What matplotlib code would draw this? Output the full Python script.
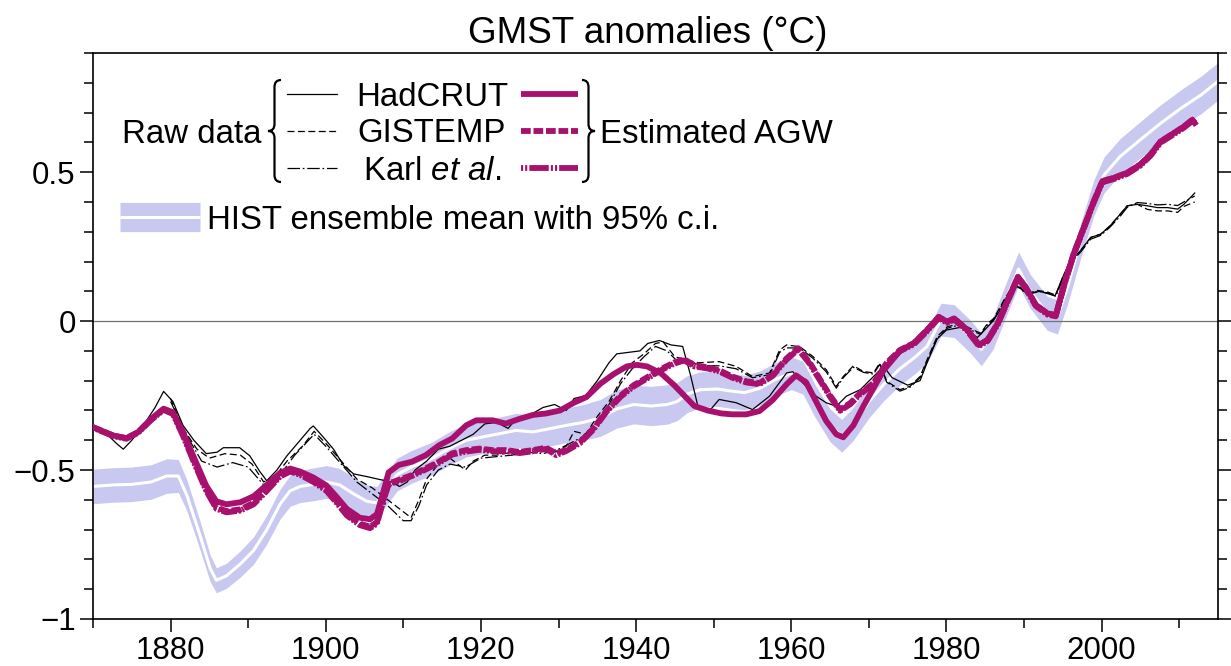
import numpy as np
import matplotlib
matplotlib.use("Agg")
import matplotlib.pyplot as plt
from matplotlib.path import Path
from matplotlib.patches import PathPatch
from matplotlib.ticker import MultipleLocator, FuncFormatter

plt.rcParams["font.family"] = ["Liberation Sans", "DejaVu Sans"]
plt.rcParams["mathtext.fontset"] = "custom"
plt.rcParams["mathtext.rm"] = "Liberation Sans"
plt.rcParams["mathtext.it"] = "Liberation Sans:italic"
plt.rcParams["lines.scale_dashes"] = False

# ---- data ---------------------------------------------------------------
# HIST ensemble mean and half width of the 95% c.i.
hist_years = [1870.0, 1872.6, 1875.0, 1877.5, 1879.5, 1881.0, 1882.1, 1883.8, 1885.1, 1885.9,
              1887.2, 1889.0, 1890.7, 1892.4, 1894.1, 1895.4, 1896.7, 1898.4, 1900.1, 1901.8,
              1903.6, 1905.3, 1906.6, 1907.9, 1909.2, 1911.0, 1913.7, 1915.9, 1918.1, 1920.2,
              1922.4, 1924.5, 1926.7, 1928.9, 1931.0, 1933.2, 1935.4, 1937.5, 1939.7, 1941.9,
              1944.0, 1945.3, 1946.6, 1948.3, 1950.5, 1952.3, 1954.0, 1956.0, 1958.0, 1960.0,
              1961.5, 1963.0, 1965.0, 1966.5, 1968.0, 1970.0, 1972.0, 1974.0, 1976.0, 1977.5,
              1979.3, 1981.0, 1983.0, 1984.5, 1986.0, 1987.5, 1989.3, 1990.8, 1993.0, 1994.3,
              1995.6, 1997.3, 1999.0, 2000.3, 2002.4, 2005.0, 2007.6, 2010.2, 2012.8, 2015.2]
hist_mean = [-0.555, -0.55, -0.548, -0.54, -0.52, -0.52, -0.585, -0.72, -0.83, -0.87,
             -0.855, -0.815, -0.77, -0.70, -0.615, -0.57, -0.555, -0.548, -0.54, -0.55,
             -0.58, -0.605, -0.61, -0.56, -0.515, -0.49, -0.461, -0.428, -0.40, -0.389,
             -0.378, -0.367, -0.372, -0.361, -0.35, -0.34, -0.325, -0.295, -0.28, -0.285,
             -0.28, -0.27, -0.245, -0.23, -0.228, -0.235, -0.24, -0.225, -0.195, -0.175,
             -0.19, -0.265, -0.35, -0.385, -0.345, -0.27, -0.21, -0.16, -0.12, -0.085,
             0.005, 0.0, -0.05, -0.095, -0.04, 0.06, 0.175, 0.10, 0.026, 0.014,
             0.114, 0.27, 0.414, 0.49, 0.553, 0.609, 0.664, 0.714, 0.759, 0.809]
hist_ci = [0.058, 0.058, 0.058, 0.058, 0.058, 0.055, 0.052, 0.048, 0.045, 0.042,
           0.042, 0.044, 0.046, 0.048, 0.050, 0.052, 0.054, 0.055, 0.055, 0.055,
           0.055, 0.055, 0.055, 0.055, 0.055, 0.055, 0.055, 0.056, 0.056, 0.056,
           0.056, 0.057, 0.057, 0.058, 0.058, 0.060, 0.062, 0.064, 0.065, 0.066,
           0.066, 0.064, 0.062, 0.060, 0.058, 0.058, 0.058, 0.058, 0.056, 0.055,
           0.055, 0.055, 0.055, 0.055, 0.055, 0.055, 0.055, 0.055, 0.055, 0.055,
           0.055, 0.055, 0.055, 0.055, 0.055, 0.056, 0.057, 0.057, 0.057, 0.057,
           0.058, 0.059, 0.060, 0.060, 0.060, 0.061, 0.062, 0.062, 0.063, 0.063]

# estimated AGW, HadCRUT based
agw_had_years = [1870.0, 1872.6, 1874.3, 1875.8, 1877.5, 1879.1, 1880.3, 1881.6, 1883.1, 1884.6,
                 1885.9, 1887.2, 1889.0, 1890.7, 1892.4, 1894.1, 1895.4, 1896.7, 1898.4, 1900.1,
                 1901.4, 1902.7, 1904.4, 1905.7, 1906.6, 1907.4, 1908.1, 1909.4, 1911.1, 1912.9,
                 1914.6, 1916.3, 1918.1, 1919.4, 1921.5, 1923.2, 1925.0, 1926.7, 1928.4, 1930.2,
                 1931.9, 1933.6, 1935.4, 1937.1, 1938.8, 1940.1, 1941.4, 1943.2, 1944.9, 1946.2,
                 1947.5, 1949.2, 1951.0, 1952.4, 1954.2, 1955.9, 1957.6, 1959.4, 1960.6, 1961.9,
                 1963.2, 1964.5, 1965.8, 1966.7, 1968.0, 1969.3, 1970.6, 1971.9, 1973.2, 1974.0,
                 1975.8, 1977.5, 1979.0, 1980.1, 1981.0, 1982.7, 1984.2, 1985.3, 1986.6, 1987.9,
                 1989.2, 1990.2, 1991.5, 1993.0, 1994.1, 1995.2, 1996.4, 1997.7, 1999.0, 2000.1,
                 2001.6, 2003.3, 2005.0, 2006.3, 2007.6, 2009.3, 2010.6, 2011.7, 2012.0]
agw_had = [-0.356, -0.384, -0.393, -0.373, -0.328, -0.294, -0.306, -0.373, -0.463, -0.553,
           -0.605, -0.615, -0.608, -0.588, -0.550, -0.510, -0.495, -0.505, -0.525, -0.552,
           -0.590, -0.630, -0.660, -0.665, -0.648, -0.575, -0.508, -0.483, -0.472, -0.450,
           -0.417, -0.394, -0.350, -0.333, -0.333, -0.344, -0.328, -0.315, -0.310, -0.300,
           -0.275, -0.255, -0.210, -0.178, -0.152, -0.147, -0.152, -0.175, -0.215, -0.250,
           -0.285, -0.300, -0.310, -0.313, -0.313, -0.302, -0.265, -0.212, -0.182, -0.205,
           -0.270, -0.335, -0.380, -0.390, -0.350, -0.285, -0.225, -0.165, -0.125, -0.100,
           -0.074, -0.030, 0.014, -0.002, 0.009, -0.030, -0.080, -0.063, -0.008, 0.070,
           0.148, 0.115, 0.055, 0.026, 0.020, 0.126, 0.226, 0.314, 0.403, 0.470,
           0.481, 0.498, 0.526, 0.559, 0.603, 0.631, 0.653, 0.676, 0.665]

# estimated AGW, GISTEMP based
agw_gis_years = [1870.0, 1872.6, 1874.3, 1875.8, 1877.5, 1879.1, 1880.3, 1881.6, 1883.1, 1884.6,
                 1885.9, 1887.2, 1889.0, 1890.7, 1892.4, 1894.1, 1895.4, 1896.7, 1898.4, 1900.1,
                 1901.4, 1902.7, 1904.4, 1905.7, 1906.6, 1907.4, 1908.1, 1909.4, 1911.1, 1912.9,
                 1914.6, 1916.3, 1918.1, 1919.8, 1921.5, 1923.2, 1925.0, 1926.7, 1928.4, 1929.7,
                 1931.0, 1932.8, 1934.5, 1936.2, 1938.0, 1939.7, 1941.4, 1943.2, 1944.9, 1946.2,
                 1947.5, 1949.2, 1950.7, 1952.4, 1954.2, 1955.9, 1957.6, 1959.4, 1960.9, 1962.4,
                 1963.7, 1965.0, 1966.3, 1967.6, 1968.9, 1970.6, 1972.3, 1974.0, 1975.8, 1977.5,
                 1979.0, 1980.1, 1981.0, 1982.7, 1984.2, 1985.3, 1986.6, 1987.9, 1989.2, 1990.2,
                 1991.5, 1993.0, 1994.1, 1995.2, 1996.4, 1997.7, 1999.0, 2000.1, 2001.6, 2003.3,
                 2005.0, 2006.3, 2007.6, 2009.3, 2010.6, 2011.7, 2012.0]
agw_gis = [-0.356, -0.384, -0.393, -0.373, -0.330, -0.296, -0.310, -0.380, -0.475, -0.565,
           -0.625, -0.638, -0.632, -0.610, -0.565, -0.518, -0.500, -0.512, -0.535, -0.565,
           -0.605, -0.648, -0.680, -0.690, -0.675, -0.600, -0.545, -0.533, -0.517, -0.494,
           -0.472, -0.444, -0.433, -0.428, -0.433, -0.433, -0.439, -0.433, -0.425, -0.444,
           -0.432, -0.405, -0.360, -0.300, -0.250, -0.215, -0.189, -0.161, -0.139, -0.128,
           -0.148, -0.155, -0.165, -0.186, -0.202, -0.208, -0.180, -0.125, -0.091, -0.140,
           -0.195, -0.250, -0.297, -0.275, -0.241, -0.208, -0.140, -0.097, -0.074, -0.030,
           0.014, -0.002, 0.009, -0.030, -0.080, -0.063, -0.008, 0.070, 0.148, 0.115,
           0.055, 0.026, 0.020, 0.126, 0.226, 0.314, 0.403, 0.470, 0.481, 0.498,
           0.526, 0.559, 0.603, 0.631, 0.653, 0.676, 0.665]

# estimated AGW, Karl et al. based
agw_karl = [-0.358, -0.386, -0.395, -0.375, -0.332, -0.298, -0.312, -0.385, -0.480, -0.570,
            -0.630, -0.642, -0.636, -0.615, -0.570, -0.522, -0.505, -0.516, -0.540, -0.570,
            -0.610, -0.652, -0.685, -0.695, -0.680, -0.605, -0.548, -0.538, -0.520, -0.498,
            -0.476, -0.448, -0.438, -0.432, -0.437, -0.437, -0.443, -0.437, -0.429, -0.450,
            -0.436, -0.409, -0.364, -0.304, -0.254, -0.219, -0.193, -0.165, -0.143, -0.132,
            -0.152, -0.159, -0.169, -0.190, -0.206, -0.212, -0.184, -0.129, -0.095, -0.144,
            -0.199, -0.254, -0.301, -0.279, -0.245, -0.212, -0.144, -0.101, -0.078, -0.034,
            0.010, -0.006, 0.005, -0.034, -0.084, -0.067, -0.012, 0.066, 0.144, 0.111,
            0.051, 0.022, 0.016, 0.122, 0.222, 0.310, 0.399, 0.466, 0.477, 0.494,
            0.522, 0.555, 0.599, 0.627, 0.649, 0.672, 0.680]

# raw HadCRUT
had_years = [1871.8, 1873.0, 1873.9, 1875.0, 1876.5, 1878.0, 1879.1, 1880.3, 1881.6, 1883.0,
             1884.6, 1886.0, 1886.8, 1888.9, 1890.2, 1891.5, 1892.4, 1893.7, 1895.0, 1896.7,
             1898.0, 1898.4, 1899.7, 1901.0, 1902.3, 1903.6, 1905.3, 1907.0, 1908.5, 1909.5,
             1910.5, 1911.5, 1913.0, 1914.5, 1916.0, 1917.5, 1919.0, 1920.5, 1922.0, 1923.5,
             1924.5, 1926.0, 1928.0, 1929.5, 1931.0, 1932.0, 1933.5, 1935.0, 1936.5, 1937.5,
             1939.0, 1940.5, 1941.5, 1943.0, 1944.5, 1946.0, 1947.0, 1948.0, 1949.5, 1950.7,
             1952.9, 1955.0, 1957.2, 1959.4, 1960.2, 1961.5, 1963.2, 1964.5, 1965.8, 1967.1,
             1968.9, 1970.6, 1971.9, 1973.0, 1975.0, 1976.6, 1977.5, 1978.8, 1980.0, 1982.0,
             1984.0, 1986.0, 1987.5, 1989.0, 1990.5, 1992.0, 1994.0, 1995.0, 1996.0, 1997.3,
             1998.6, 1999.9, 2001.1, 2002.4, 2003.3, 2004.6, 2005.9, 2007.2, 2008.5, 2009.8,
             2010.6, 2012.0]
had_raw = [-0.38, -0.41, -0.43, -0.40, -0.35, -0.29, -0.236, -0.27, -0.35, -0.40,
           -0.445, -0.44, -0.425, -0.425, -0.452, -0.505, -0.536, -0.50, -0.452, -0.40,
           -0.36, -0.352, -0.39, -0.43, -0.485, -0.513, -0.522, -0.532, -0.54, -0.555,
           -0.54, -0.50, -0.47, -0.43, -0.42, -0.40, -0.38, -0.345, -0.34, -0.36,
           -0.33, -0.32, -0.29, -0.28, -0.30, -0.26, -0.25, -0.20, -0.14, -0.11,
           -0.105, -0.10, -0.075, -0.065, -0.08, -0.085, -0.18, -0.29, -0.30, -0.263,
           -0.274, -0.297, -0.252, -0.174, -0.17, -0.208, -0.252, -0.274, -0.286, -0.252,
           -0.23, -0.186, -0.152, -0.19, -0.215, -0.20, -0.14, -0.06, -0.03, -0.02,
           -0.055, 0.0, 0.06, 0.12, 0.09, 0.10, 0.085, 0.148, 0.203, 0.237,
           0.281, 0.292, 0.32, 0.359, 0.387, 0.392, 0.387, 0.381, 0.381, 0.376,
           0.392, 0.43]

# raw GISTEMP
gis_years = [1880.0, 1881.6, 1883.4, 1885.0, 1887.0, 1889.0, 1890.5, 1892.0, 1893.5, 1895.0,
             1897.0, 1898.5, 1900.0, 1902.0, 1904.0, 1906.0, 1908.0, 1910.0, 1911.0, 1912.0,
             1913.0, 1914.5, 1916.0, 1917.0, 1918.0, 1919.0, 1920.5, 1922.0, 1924.0, 1926.0,
             1928.0, 1929.5, 1931.0, 1932.0, 1933.5, 1935.0, 1936.5, 1938.0, 1939.5, 1941.0,
             1942.5, 1943.5, 1945.0, 1946.5, 1948.0, 1950.7, 1952.9, 1955.0, 1957.2, 1958.5,
             1959.4, 1961.1, 1962.8, 1964.5, 1965.8, 1966.7, 1968.0, 1969.3, 1970.6, 1971.4,
             1972.3, 1974.0, 1975.3, 1976.6, 1977.5, 1978.8, 1980.1, 1981.8, 1983.5, 1984.4,
             1985.3, 1986.1, 1987.4, 1988.7, 1989.5, 1990.4, 1991.7, 1993.0, 1994.1, 1995.0,
             1996.0, 1997.3, 1998.6, 1999.9, 2001.1, 2002.4, 2003.3, 2004.6, 2005.9, 2007.2,
             2008.5, 2009.8, 2010.6, 2012.0]
gis_raw = [-0.26, -0.36, -0.43, -0.46, -0.445, -0.45, -0.48, -0.54, -0.52, -0.47,
           -0.42, -0.37, -0.41, -0.47, -0.53, -0.56, -0.60, -0.64, -0.66, -0.60,
           -0.53, -0.48, -0.46, -0.48, -0.50, -0.47, -0.45, -0.45, -0.44, -0.43,
           -0.43, -0.44, -0.42, -0.37, -0.38, -0.32, -0.27, -0.20, -0.14, -0.11,
           -0.075, -0.07, -0.12, -0.13, -0.14, -0.136, -0.152, -0.186, -0.174, -0.097,
           -0.08, -0.086, -0.119, -0.163, -0.219, -0.186, -0.15, -0.169, -0.174, -0.141,
           -0.202, -0.23, -0.219, -0.186, -0.13, -0.052, -0.019, -0.008, -0.03, -0.041,
           -0.008, 0.009, 0.07, 0.126, 0.114, 0.092, 0.103, 0.098, 0.087, 0.148,
           0.203, 0.237, 0.281, 0.292, 0.32, 0.359, 0.387, 0.392, 0.375, 0.37,
           0.37, 0.365, 0.385, 0.40]

# raw Karl et al.
karl_years = [1880.0, 1882.0, 1884.0, 1886.0, 1888.0, 1890.0, 1892.0, 1894.0, 1896.0, 1898.5,
              1900.0, 1902.0, 1904.0, 1906.0, 1908.0, 1910.0, 1911.0, 1912.0, 1913.0, 1914.5,
              1916.0, 1918.0, 1920.0, 1922.0, 1924.0, 1926.0, 1928.0, 1930.0, 1931.5, 1933.0,
              1935.0, 1936.5, 1938.0, 1939.5, 1941.0, 1942.5, 1944.0, 1945.5, 1947.0, 1949.0,
              1950.7, 1952.9, 1955.0, 1957.2, 1958.5, 1959.4, 1961.1, 1962.8, 1964.5, 1965.8,
              1966.7, 1968.0, 1969.3, 1970.6, 1971.4, 1972.3, 1974.0, 1975.3, 1976.6, 1977.5,
              1978.8, 1980.1, 1981.8, 1983.5, 1984.4, 1985.3, 1986.1, 1987.4, 1988.7, 1989.5,
              1990.4, 1991.7, 1993.0, 1994.1, 1995.0, 1996.0, 1997.3, 1998.6, 1999.9, 2001.1,
              2002.4, 2003.3, 2004.6, 2005.9, 2007.2, 2008.5, 2009.8, 2010.6, 2012.0]
karl_raw = [-0.27, -0.38, -0.47, -0.49, -0.475, -0.49, -0.55, -0.52, -0.45, -0.38,
            -0.42, -0.48, -0.54, -0.58, -0.62, -0.67, -0.67, -0.62, -0.55, -0.50,
            -0.48, -0.49, -0.46, -0.455, -0.45, -0.44, -0.445, -0.43, -0.41, -0.39,
            -0.34, -0.28, -0.21, -0.16, -0.12, -0.085, -0.10, -0.14, -0.14, -0.15,
            -0.15, -0.16, -0.19, -0.18, -0.105, -0.09, -0.09, -0.125, -0.17, -0.225,
            -0.19, -0.155, -0.172, -0.178, -0.145, -0.205, -0.235, -0.222, -0.19, -0.135,
            -0.058, -0.024, -0.012, -0.034, -0.045, -0.012, 0.005, 0.066, 0.12, 0.11,
            0.088, 0.10, 0.095, 0.083, 0.14, 0.196, 0.232, 0.275, 0.288, 0.316,
            0.352, 0.382, 0.398, 0.395, 0.39, 0.392, 0.388, 0.40, 0.42]

x_major = [1880, 1900, 1920, 1940, 1960, 1980, 2000]
y_major = [-1, -0.5, 0, 0.5]

# ---- styling ------------------------------------------------------------
magenta = "#a8106e"
lavender = "#c8c8f0"
W, H = 1231, 666
L, R, B, T = 93, 1218, 619, 53   # axes edges in pixels

fig = plt.figure(figsize=(W / 100, H / 100), dpi=100)
ax = fig.add_axes([L / W, 1 - B / H, (R - L) / W, (B - T) / H])


def axf(px, py):
    # pixel position in the picture -> axes fraction
    return (px - L) / (R - L), (B - py) / (B - T)


# HIST band
hist_lo = np.array(hist_mean) - np.array(hist_ci)
hist_hi = np.array(hist_mean) + np.array(hist_ci)
ax.fill_between(hist_years, hist_lo, hist_hi, color=lavender, lw=0, zorder=1)
ax.plot(hist_years, hist_mean, color="white", lw=2.2, zorder=2)

ax.axhline(0, color="0.45", lw=0.9, zorder=2)

# raw data
ax.plot(had_years, had_raw, color="black", lw=0.9, zorder=3)
ax.plot(gis_years, gis_raw, color="black", lw=0.9, ls=(0, (5, 2.5)), zorder=3)
ax.plot(karl_years, karl_raw, color="black", lw=0.9, ls=(0, (9, 2, 1.2, 2)), zorder=3)

# estimated AGW
ls_gis = (0, (7, 2))
ls_karl = (0, (1.5, 1.2, 1.5, 1.2, 11, 1.2))
ax.plot(agw_had_years, agw_had, color=magenta, lw=4.2, zorder=4)
ax.plot(agw_gis_years, agw_gis, color=magenta, lw=4.2, ls=ls_gis, zorder=4)
ax.plot(agw_gis_years, agw_karl, color=magenta, lw=4.2, ls=ls_karl, zorder=4)

ax.set_xlim(1870, 2015)
ax.set_ylim(-1, 0.9)
ax.set_xticks(x_major)
ax.xaxis.set_minor_locator(MultipleLocator(10))
ax.set_yticks(y_major)
ax.yaxis.set_minor_locator(MultipleLocator(0.1))
ax.yaxis.set_major_formatter(FuncFormatter(lambda v, p: ("%g" % v).replace("-", "\u2212")))
ax.tick_params(which="both", direction="out", labelsize=22.5, width=1.1)
ax.tick_params(which="major", length=9.5)
ax.tick_params(which="minor", length=6.5)
ax.tick_params(axis="y", which="both", right=True, pad=3)
ax.tick_params(axis="x", pad=3)
for s in ax.spines.values():
    s.set_linewidth(1.2)

ax.text(*axf(648, 43), "GMST anomalies (\u00b0C)", fontsize=26.5, ha="center",
        va="baseline", transform=ax.transAxes)


# ---- hand made legend ---------------------------------------------------
def brace(x_tip, x_back, y_top, y_bot):
    xm = (x_tip + x_back) / 2
    ym = (y_top + y_bot) / 2
    r = 7
    pts = [(x_back, y_top), (xm, y_top), (xm, y_top + r), (xm, ym - r), (xm, ym),
           (x_tip, ym), (xm, ym), (xm, ym + r), (xm, y_bot - r), (xm, y_bot), (x_back, y_bot)]
    codes = [Path.MOVETO, Path.CURVE3, Path.CURVE3, Path.LINETO, Path.CURVE3, Path.CURVE3,
             Path.CURVE3, Path.CURVE3, Path.LINETO, Path.CURVE3, Path.CURVE3]
    verts = [axf(px, py) for px, py in pts]
    ax.add_patch(PathPatch(Path(verts, codes), fill=False, lw=1.6, color="black",
                           transform=ax.transAxes, clip_on=False, zorder=6))


def sample(x0, x1, py, **kw):
    (a, y), (b, _) = axf(x0, py), axf(x1, py)
    ax.plot([a, b], [y, y], transform=ax.transAxes, clip_on=False, zorder=6, **kw)


fs = 23.8
rows = [94, 131, 168]
names = ["HadCRUT", "GISTEMP", "Karl $\\mathit{et\\ al.}$"]
black_ls = ["-", (0, (5, 2.5)), (0, (9, 2, 1.2, 2))]
mag_ls = ["-", ls_gis, (0, (1.5, 1.5, 1.5, 1.5, 14, 1.5))]

ax.text(*axf(262, 143), "Raw data", fontsize=fs, ha="right", va="baseline",
        transform=ax.transAxes)
brace(268, 281, 80, 182)
for py, name, bls, mls in zip(rows, names, black_ls, mag_ls):
    sample(287, 337, py, color="black", lw=0.9, ls=bls)
    ax.text(*axf(432, py + 11.5), name, fontsize=fs, ha="center", va="baseline",
            transform=ax.transAxes)
    sample(521, 578, py, color=magenta, lw=4.2, ls=mls, solid_capstyle="butt")
brace(595, 582, 80, 182)
ax.text(*axf(600, 143), "Estimated AGW", fontsize=fs, ha="left", va="baseline",
        transform=ax.transAxes)

sample(120, 200, 217, color=lavender, lw=21, solid_capstyle="butt")
sample(120, 200, 217, color="white", lw=2.2, solid_capstyle="butt")
ax.text(*axf(207, 229), "HIST ensemble mean with 95% c.i.", fontsize=fs, ha="left",
        va="baseline", transform=ax.transAxes)

plt.savefig("out.png", dpi=100)
plt.close()
